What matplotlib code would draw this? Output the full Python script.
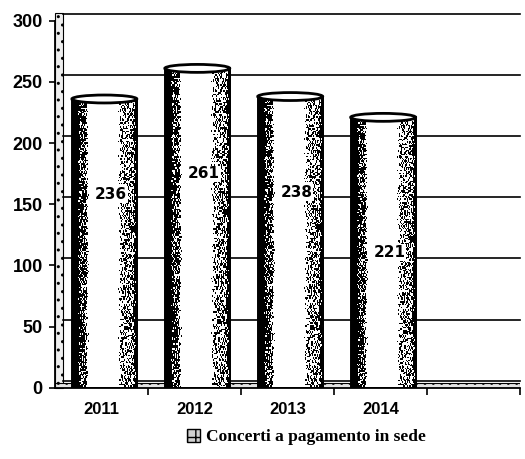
import numpy as np
import matplotlib.pyplot as plt
from matplotlib.patches import Rectangle, Ellipse
from matplotlib.transforms import offset_copy

# Concerti a pagamento in sede, per anno
years = ['2011', '2012', '2013', '2014', '']
concerti = [236, 261, 238, 221]
y_ticks = [0, 50, 100, 150, 200, 250, 300]

plt.rcParams['font.family'] = ['Liberation Sans', 'DejaVu Sans']

fig = plt.figure(figsize=(5.25, 4.59), dpi=100)
ax = fig.add_axes([0.105, 0.155, 0.885, 0.80])
ax.set_xlim(-0.5, len(years) - 0.5)
ax.set_ylim(0, 300)

# back wall gridlines, shifted up a little for the 3d look
grid_tr = offset_copy(ax.transData, fig=fig, x=0, y=7, units='dots')
for t in y_ticks:
    ax.plot([-0.42, len(years) - 0.5], [t, t], color='black', lw=1.2,
            transform=grid_tr, zorder=1, clip_on=False)

# side wall and floor
ax.add_patch(Rectangle((0, 0), 0.016, 1.02, transform=ax.transAxes, facecolor='#eeeeee',
                       edgecolor='black', lw=0.8, hatch='..', zorder=0.5, clip_on=False))
ax.add_patch(Rectangle((0, 0), 1, 0.013, transform=ax.transAxes, facecolor='#e4e4e4',
                       edgecolor='black', lw=0.8, hatch='..', zorder=0.5))

# shading profile across a cylinder: dark left rim, white face, speckled right side
prof_x = [0.0, 0.08, 0.12, 0.2, 0.25, 0.7, 0.76, 0.92, 0.96, 1.0]
prof_v = [0.0, 0.0, 0.3, 0.35, 1.0, 1.0, 0.6, 0.55, 0.15, 0.0]
tt = np.linspace(0, 1, 90)
shade = np.interp(tt, prof_x, prof_v)
rng = np.random.default_rng(7)
speck = rng.random((200, 90))
grain = np.where(speck < shade[None, :], 1.0, 0.0)

width = 0.7
shift = 0.03
for i, v in enumerate(concerti):
    x0 = i - width / 2 + shift
    body = Rectangle((x0, 0), width, v, facecolor='none', edgecolor='black', lw=1.4, zorder=3)
    ax.add_patch(body)
    img = ax.imshow(grain, cmap='gray', vmin=0, vmax=1, extent=(x0, x0 + width, 0, v),
                    aspect='auto', interpolation='nearest', zorder=2.5)
    img.set_clip_path(body)
    ax.add_patch(Ellipse((i + shift, v), width, 6.5, facecolor='white',
                         edgecolor='black', lw=2.0, zorder=4))
    frac = 0.5 if i == 3 else 0.67
    ax.text(i + 0.1, v * frac, str(v), ha='center', va='center', fontsize=11,
            fontweight='bold', family='Liberation Sans Narrow', zorder=5,
            bbox=dict(facecolor='white', edgecolor='none', pad=0.5))

ax.set_yticks(y_ticks)
ax.set_xticks(range(len(years)))
ax.set_xticklabels(years)
ax.set_xticks(np.arange(0.5, len(years)), minor=True)
ax.tick_params(axis='x', which='major', length=0, pad=10)
ax.tick_params(axis='x', which='minor', length=5, width=1.2, direction='out')
ax.tick_params(axis='y', length=4, width=1.2, direction='out', pad=5)
for lab in ax.get_xticklabels():
    lab.set_fontweight('bold')
    lab.set_fontsize(12)
for lab in ax.get_yticklabels():
    lab.set_fontweight('bold')
    lab.set_fontsize(13)

for s in ['top', 'right']:
    ax.spines[s].set_visible(False)
for s in ['left', 'bottom']:
    ax.spines[s].set_linewidth(1.3)

# legend entry below the plot
leg_handle = Rectangle((0, 0), 1, 1, facecolor='#d0d0d0', edgecolor='black', hatch='++')
fig.legend([leg_handle], ['Concerti a pagamento in sede'], loc='center',
           bbox_to_anchor=(0.583, 0.048), frameon=False, handlelength=0.8, handleheight=0.8,
           handletextpad=0.3, prop={'family': 'Liberation Serif', 'weight': 'bold', 'size': 12.5})

fig.savefig('out.png', dpi=100)
